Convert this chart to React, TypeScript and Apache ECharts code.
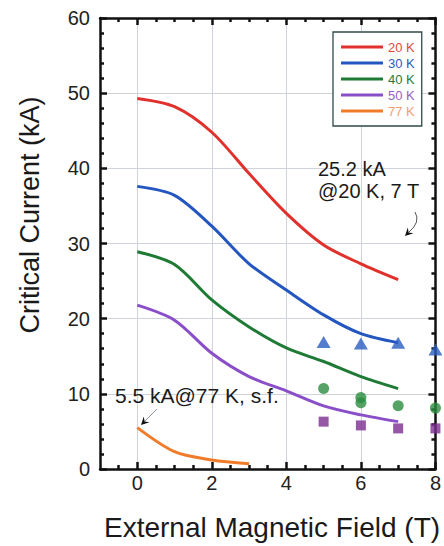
import React, { useEffect, useRef } from "react";
import * as echarts from "echarts";

const fields = [0, 1, 2, 3, 4, 5, 6, 7];
const fields77 = [0, 1, 2, 3];
const ic20 = [49.3, 48.2, 44.8, 39.3, 34.0, 29.8, 27.3, 25.2];
const ic30 = [37.6, 36.4, 32.3, 27.3, 23.8, 20.5, 18.0, 16.8];
const ic40 = [28.9, 27.2, 22.5, 18.9, 16.1, 14.3, 12.3, 10.7];
const ic50 = [21.8, 19.8, 15.4, 12.3, 10.4, 8.4, 7.2, 6.3];
const ic77 = [5.5, 2.3, 1.2, 0.7];

const triX = [5, 6, 7, 8];
const triY = [16.9, 16.7, 16.8, 15.9];
const circX = [5, 6, 6, 7, 8];
const circY = [10.7, 9.5, 8.8, 8.4, 8.1];
const sqX = [5, 6, 7, 8];
const sqY = [6.3, 5.8, 5.4, 5.4];

const legendNames = ["20 K", "30 K", "40 K", "50 K", "77 K"];
const lineColors = ["#e0312c", "#2456c0", "#1e7a35", "#8a4fc8", "#f07c2a"];
const legendTextColors = ["#e04a3a", "#2c5bbf", "#2a7a40", "#9b5cc8", "#f0a070"];

const xMajorTicks = [0, 2, 4, 6, 8];
const xMinorTicks = [-0.5, 0.5, 1, 1.5, 2.5, 3, 3.5, 4.5, 5, 5.5, 6.5, 7, 7.5];

const FONT = "'Liberation Sans', Arial, Helvetica, sans-serif";
const AX = "#111111";

export default function App() {
  const ref = useRef<HTMLDivElement>(null);
  useEffect(() => {
    if (!ref.current) return;
    const chart = echarts.init(ref.current, undefined, { renderer: "svg" });
    const lineSets = [
      { x: fields, y: ic20 },
      { x: fields, y: ic30 },
      { x: fields, y: ic40 },
      { x: fields, y: ic50 },
      { x: fields77, y: ic77 },
    ];
    const axLine = { show: true, onZero: false, lineStyle: { color: AX, width: 2.5 } };
    const majorTick = (vals?: number[]) => ({
      show: true,
      inside: true,
      length: 7,
      ...(vals ? { customValues: vals } : {}),
      lineStyle: { color: AX, width: 2.5 },
    });
    const minorTickX = {
      show: true,
      inside: true,
      length: 4,
      customValues: xMinorTicks,
      lineStyle: { color: AX, width: 2.5 },
    };
    const grid = { lineStyle: { color: "#cfd4dc", width: 1 } };
    const textStyle = (text: string, size: number, align: string) => ({
      text,
      fontSize: size,
      fontFamily: FONT,
      fill: "#1a1a1a",
      align,
      verticalAlign: "middle",
      textAlign: align,
      textVerticalAlign: "middle",
    });
    const option: any = {
      animation: false,
      backgroundColor: "#ffffff",
      grid: { left: 100, right: 5, top: 18, bottom: 77, containLabel: false },
      xAxis: [
        {
          type: "value",
          position: "bottom",
          min: -1,
          max: 8,
          axisLine: axLine,
          axisTick: majorTick(xMajorTicks),
          axisLabel: { customValues: xMajorTicks, fontSize: 20, color: "#222", margin: 4, fontFamily: FONT },
          splitLine: { show: true, ...grid },
        },
        {
          type: "value",
          position: "bottom",
          min: -1,
          max: 8,
          axisLine: { show: false, onZero: false },
          axisTick: minorTickX,
          axisLabel: { show: false },
          splitLine: { show: false },
        },
        {
          type: "value",
          position: "top",
          min: -1,
          max: 8,
          axisLine: axLine,
          axisTick: majorTick(xMajorTicks),
          axisLabel: { show: false },
          splitLine: { show: false },
        },
        {
          type: "value",
          position: "top",
          min: -1,
          max: 8,
          axisLine: { show: false, onZero: false },
          axisTick: minorTickX,
          axisLabel: { show: false },
          splitLine: { show: false },
        },
      ],
      yAxis: [
        {
          type: "value",
          position: "left",
          min: 0,
          max: 60,
          interval: 10,
          axisLine: axLine,
          axisTick: majorTick(),
          minorTick: { show: true, splitNumber: 5, length: 4, lineStyle: { color: AX, width: 2.5 } },
          axisLabel: { fontSize: 20, color: "#222", margin: 10, fontFamily: FONT },
          splitLine: { show: true, ...grid },
          minorSplitLine: { show: false },
        },
        {
          type: "value",
          position: "right",
          min: 0,
          max: 60,
          interval: 10,
          axisLine: axLine,
          axisTick: majorTick(),
          minorTick: { show: true, splitNumber: 5, length: 4, lineStyle: { color: AX, width: 2.5 } },
          axisLabel: { show: false },
          splitLine: { show: false },
          minorSplitLine: { show: false },
        },
      ],
      legend: {
        show: true,
        orient: "vertical",
        left: 333,
        top: 32,
        padding: [8, 7, 8, 8],
        itemWidth: 42,
        itemHeight: 3,
        itemGap: 2,
        icon: "rect",
        borderColor: "#2f4a4a",
        borderWidth: 1.3,
        borderRadius: 0,
        backgroundColor: "#ffffff",
        textStyle: { fontSize: 13, fontFamily: FONT, lineHeight: 14 },
        data: legendNames.map((n, i) => ({ name: n, textStyle: { color: legendTextColors[i] } })),
      },
      series: [
        ...lineSets.map((s, i) => ({
          type: "line",
          name: legendNames[i],
          xAxisIndex: 0,
          yAxisIndex: 0,
          data: s.x.map((x, j) => [x, s.y[j]]),
          symbol: "none",
          smooth: 0.3,
          color: lineColors[i],
          lineStyle: { width: 3, color: lineColors[i] },
          itemStyle: { color: lineColors[i] },
          z: 3,
        })),
        {
          type: "scatter",
          name: "triangles",
          data: triX.map((x, j) => [x, triY[j]]),
          symbol: "triangle",
          symbolSize: [14, 12],
          itemStyle: { color: "#2a5cc0" },
          clip: false,
          z: 5,
        },
        {
          type: "scatter",
          name: "circles",
          data: circX.map((x, j) => [x, circY[j]]),
          symbol: "circle",
          symbolSize: 11,
          itemStyle: { color: "#2a8c3e" },
          clip: false,
          z: 5,
        },
        {
          type: "scatter",
          name: "squares",
          data: sqX.map((x, j) => [x, sqY[j]]),
          symbol: "rect",
          symbolSize: 10,
          itemStyle: { color: "#7b2d90" },
          clip: false,
          z: 5,
        },
      ],
      graphic: [
        {
          type: "text",
          x: 30,
          y: 215,
          rotation: Math.PI / 2,
          style: textStyle("Critical Current (kA)", 27, "center"),
        },
        {
          type: "text",
          x: 272,
          y: 527,
          style: textStyle("External Magnetic Field (T)", 28, "center"),
        },
        { type: "text", x: 318, y: 169, z: 10, style: textStyle("25.2 kA", 20, "left") },
        { type: "text", x: 318, y: 191, z: 10, style: textStyle("@20 K, 7 T", 20, "left") },
        { type: "text", x: 115, y: 395, z: 10, style: textStyle("5.5 kA@77 K, s.f.", 21, "left") },
        {
          type: "line",
          z: 10,
          shape: { x1: 157, y1: 409, x2: 145, y2: 421 },
          style: { stroke: "#8a98a8", lineWidth: 1 },
        },
        {
          type: "polygon",
          z: 10,
          shape: { points: [[141, 425], [149.5, 422.2], [144.6, 421.4], [143.8, 416.5]] },
          style: { fill: "#111" },
        },
        {
          type: "bezierCurve",
          z: 10,
          shape: { x1: 415, y1: 212, cpx1: 421, cpy1: 222, x2: 409, y2: 232 },
          style: { stroke: "#555", lineWidth: 1, fill: "none" },
        },
        {
          type: "polygon",
          z: 10,
          shape: { points: [[405, 236], [413.5, 233.2], [408.6, 232.4], [407.8, 227.5]] },
          style: { fill: "#111" },
        },
      ],
    };
    chart.setOption(option);
    return () => chart.dispose();
  }, []);
  return (
    <div
      ref={ref}
      style={{ position: "fixed", left: 0, top: 0, width: 444, height: 546, background: "#fff" }}
    />
  );
}
